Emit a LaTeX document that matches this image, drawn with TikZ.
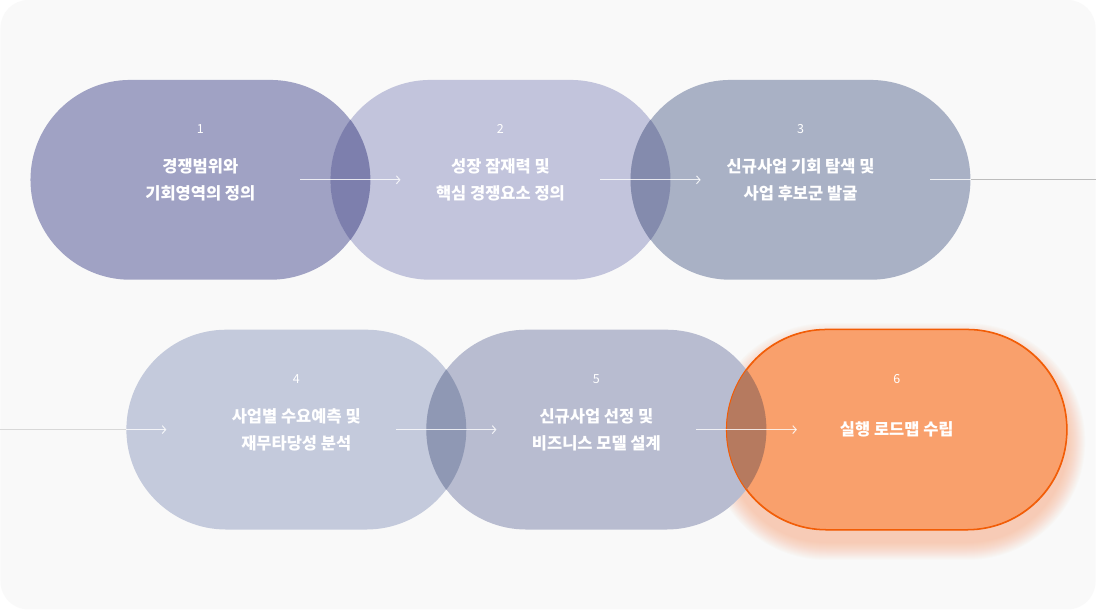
\documentclass[tikz,border=0pt]{standalone}
\usepackage{fontspec}
\setmainfont{Noto Sans CJK KR}
\usetikzlibrary{positioning,arrows.meta}

\definecolor{pagebg}{HTML}{F9F9F9}
\definecolor{stageA}{HTML}{A0A2C4}
\definecolor{stageB}{HTML}{C2C4DC}
\definecolor{stageC}{HTML}{A9B1C5}
\definecolor{stageD}{HTML}{C4CADC}
\definecolor{stageE}{HTML}{B8BCD0}
\definecolor{stageF}{HTML}{F9A06C}
\definecolor{edgeF}{HTML}{F25C05}
\definecolor{ovAB}{HTML}{7D7FAD}
\definecolor{ovBC}{HTML}{848BAD}
\definecolor{ovDE}{HTML}{8F98B4}
\definecolor{ovEF}{HTML}{B67A5F}
\definecolor{glow}{HTML}{F7884A}
\definecolor{wireR}{HTML}{BDBDBD}
\definecolor{wireL}{HTML}{D8D8D8}

\pgfdeclarelayer{backdrop}
\pgfdeclarelayer{background}
\pgfsetlayers{backdrop,background,main}

\begin{document}
\begin{tikzpicture}[
    x=1pt, y=-1pt,
    stage/.style={rectangle, rounded corners=100pt, minimum width=340pt, minimum height=200pt,
        inner sep=0pt, text=white, align=center, font=\fontsize{16.5}{27}\selectfont\bfseries},
    num/.style={text=white, inner sep=0pt, font=\fontsize{12.5}{13}\selectfont},
    flow/.style={-{Straight Barb[length=3.5pt,width=8pt]}, white, opacity=.8, line width=1pt},
    link/.style={white, opacity=.8, line width=1pt},
    wire/.style={line width=1pt}
]
% Page
\begin{pgfonlayer}{backdrop}
\fill[white] (0,0) rectangle (1096,610);
\fill[pagebg, rounded corners=28pt] (0,0) rectangle (1096,610);
\end{pgfonlayer}

% Row 1
\node[stage, fill=stageA] (s1) at (200,180) {경쟁범위와\\기회영역의 정의};
\node[stage, fill=stageB, right=-40pt of s1] (s2) {성장 잠재력 및\\핵심 경쟁요소 정의};
\node[stage, fill=stageC, right=-40pt of s2] (s3) {신규사업 기회 탐색 및\\사업 후보군 발굴};

% Row 2
\node[stage, fill=stageD] (s4) at (296,430) {사업별 수요예측 및\\재무타당성 분석};
\node[stage, fill=stageE, right=-40pt of s4] (s5) {신규사업 선정 및\\비즈니스 모델 설계};
\node[stage, fill=stageF, draw=edgeF, line width=1pt, right=-40pt of s5] (s6) {실행 로드맵 수립};

% Glow under the last stage
\begin{pgfonlayer}{background}
\foreach \g in {1,...,18} {
    \pgfmathsetmacro\rr{100+\g}
    \fill[glow, opacity=.022, rounded corners=\rr pt]
        ([shift={(-\g*1pt,-12pt-\g*1pt)}]s6.south west) rectangle ([shift={(\g*1pt,-12pt+\g*1pt)}]s6.north east);
}
\end{pgfonlayer}

% Overlaps
\begin{scope}
\clip[rounded corners=100pt] (s1.south west) rectangle (s1.north east);
\fill[ovAB, rounded corners=100pt] (s2.south west) rectangle (s2.north east);
\end{scope}
\begin{scope}
\clip[rounded corners=100pt] (s2.south west) rectangle (s2.north east);
\fill[ovBC, rounded corners=100pt] (s3.south west) rectangle (s3.north east);
\end{scope}
\begin{scope}
\clip[rounded corners=100pt] (s4.south west) rectangle (s4.north east);
\fill[ovDE, rounded corners=100pt] (s5.south west) rectangle (s5.north east);
\end{scope}
\begin{scope}
\clip[rounded corners=100pt] (s5.south west) rectangle (s5.north east);
\fill[ovEF, rounded corners=100pt] (s6.south west) rectangle (s6.north east);
\end{scope}
\draw[edgeF, line width=1pt, rounded corners=100pt] (s6.south west) rectangle (s6.north east);

% Numbers
\foreach \i in {1,...,6}
    \node[num] (n\i) at ([yshift=51pt]s\i.center) {\i};

% Arrows
\draw[flow] ([xshift=100pt]s1.center) -- ([xshift=-100pt]s2.center);
\draw[flow] ([xshift=100pt]s2.center) -- ([xshift=-100pt]s3.center);
\draw[flow] ([xshift=100pt]s4.center) -- ([xshift=-100pt]s5.center);
\draw[flow] ([xshift=100pt]s5.center) -- ([xshift=-100pt]s6.center);

% Row change
\coordinate (exitR) at (1096,180);
\coordinate (entryL) at (0,430);
\draw[wire, wireR] (s3.east) -- (exitR);
\draw[link] ([xshift=130pt]s3.center) -- (s3.east);
\draw[wire, wireL] (entryL) -- (s4.west);
\draw[flow] (s4.west) -- ([xshift=-130pt]s4.center);

\end{tikzpicture}
\end{document}
